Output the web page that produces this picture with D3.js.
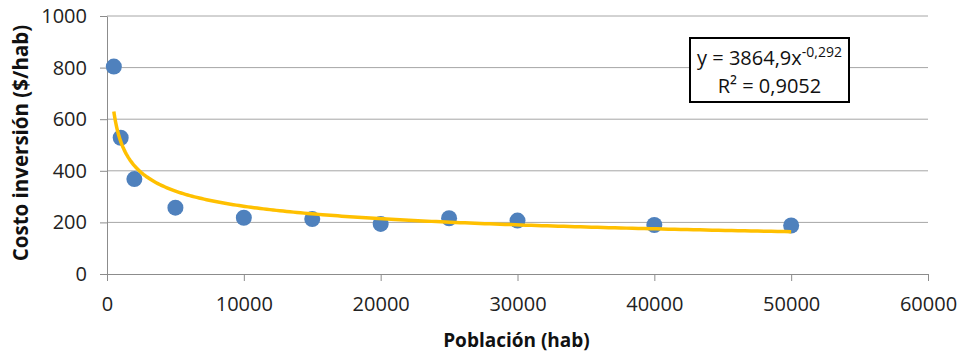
<!DOCTYPE html>
<html>
<head>
<meta charset="utf-8">
<script src="https://cdn.jsdelivr.net/npm/d3@7"></script>
<style>
  body { margin: 0; background: #fff; }
  svg { font-family: "Open Sans", "Noto Sans", sans-serif; }
</style>
</head>
<body>
<div id="chart"></div>
<script>
// data
var poblacion = [500, 1000, 2000, 5000, 10000, 15000, 20000, 25000, 30000, 40000, 50000];
var costo     = [804, 528, 368, 257, 218, 213, 194, 216, 207, 190, 188];
var xTicks = [0, 10000, 20000, 30000, 40000, 50000, 60000];
var yTicks = [0, 200, 400, 600, 800, 1000];
// power trendline shown in the label
var coefA = 3864.9, coefB = -0.292;
var eqText = "y = 3864,9x", eqExp = "-0,292", r2Text = "R² = 0,9052";

var margin = {top: 16, right: 34, bottom: 82, left: 107},
    width = 962 - margin.left - margin.right,
    height = 356 - margin.top - margin.bottom;

var svg = d3.select("#chart")
  .append("svg")
    .attr("width", 962)
    .attr("height", 356)
  .append("g")
    .attr("transform", "translate(" + margin.left + "," + margin.top + ")");

var x = d3.scaleLinear().domain([0, 60000]).range([0, width]);
var y = d3.scaleLinear().domain([0, 1000]).range([height, 0]);

// horizontal gridlines
svg.append("g")
  .selectAll("line")
  .data(yTicks.slice(1))
  .enter().append("line")
    .attr("x1", 0).attr("x2", width)
    .attr("y1", function(d) { return y(d); })
    .attr("y2", function(d) { return y(d); })
    .attr("stroke", "#a6a6a6")
    .attr("stroke-width", 1);

// Y axis
var yAxis = svg.append("g")
  .call(d3.axisLeft(y).tickValues(yTicks).tickFormat(d3.format("d")).tickSize(7).tickSizeOuter(0).tickPadding(13));
yAxis.select(".domain").attr("stroke", "#8c8c8c");
yAxis.selectAll(".tick line").attr("stroke", "#8c8c8c");
yAxis.selectAll("text").attr("font-size", "20px").attr("fill", "#222")
  .attr("font-family", "'Open Sans', sans-serif");

// X axis
var xAxis = svg.append("g")
  .attr("transform", "translate(0," + height + ")")
  .call(d3.axisBottom(x).tickValues(xTicks).tickFormat(d3.format("d")).tickSize(7).tickSizeOuter(0).tickPadding(16));
xAxis.select(".domain").attr("stroke", "#8c8c8c");
xAxis.selectAll(".tick line").attr("stroke", "#8c8c8c");
xAxis.selectAll("text").attr("font-size", "20px").attr("fill", "#222")
  .attr("font-family", "'Open Sans', sans-serif");

// points
svg.append("g")
  .selectAll("circle")
  .data(poblacion)
  .enter().append("circle")
    .attr("cx", function(d) { return x(d); })
    .attr("cy", function(d, i) { return y(costo[i]); })
    .attr("r", 8)
    .attr("fill", "#4f81bd");

// trendline
var trend = d3.range(0, 201).map(function(i) {
  var xv = poblacion[0] + (poblacion[poblacion.length - 1] - poblacion[0]) * Math.pow(i / 200, 2);
  return [xv, coefA * Math.pow(xv, coefB)];
});
svg.append("path")
  .datum(trend)
  .attr("fill", "none")
  .attr("stroke", "#ffc000")
  .attr("stroke-width", 3.5)
  .attr("d", d3.line()
    .x(function(d) { return x(d[0]); })
    .y(function(d) { return y(d[1]); }));

// equation box
var box = svg.append("g").attr("transform", "translate(" + (690 - margin.left) + "," + (38 - margin.top) + ")");
box.append("rect")
  .attr("width", 159).attr("height", 64)
  .attr("fill", "#fff").attr("stroke", "#000").attr("stroke-width", 2);
var t1 = box.append("text")
  .attr("x", 79.5).attr("y", 27)
  .attr("text-anchor", "middle")
  .attr("font-size", "20px").attr("fill", "#111");
t1.append("tspan").text(eqText);
t1.append("tspan").attr("dy", -8).attr("font-size", "14px").text(eqExp);
box.append("text")
  .attr("x", 79.5).attr("y", 55)
  .attr("text-anchor", "middle")
  .attr("font-size", "20px").attr("fill", "#111")
  .text(r2Text);

// axis titles
svg.append("text")
  .attr("transform", "translate(" + (-79) + "," + (height / 2 - 2) + ") rotate(-90)")
  .attr("text-anchor", "middle")
  .attr("font-size", "20.5px").attr("font-weight", "bold").attr("fill", "#111")
  .text("Costo inversión ($/hab)");

svg.append("text")
  .attr("x", x(30000) - 1)
  .attr("y", height + 73)
  .attr("text-anchor", "middle")
  .attr("font-size", "19px").attr("font-weight", "bold").attr("fill", "#111")
  .text("Población (hab)");
</script>
</body>
</html>
